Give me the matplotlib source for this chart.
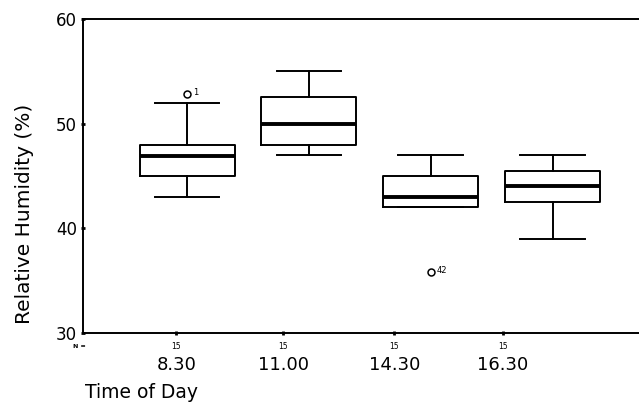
import matplotlib
matplotlib.use("Agg")
import matplotlib.pyplot as plt

plt.rcParams['font.family'] = ['DejaVu Sans']

times = ["8.30", "11.00", "14.30", "16.30"]
n_counts = ["15", "15", "15", "15"]
whisker_low = [43.0, 47.0, 42.0, 39.0]
q1 = [45.0, 48.0, 42.0, 42.5]
medians = [46.9, 50.0, 43.0, 44.0]
q3 = [48.0, 52.5, 45.0, 45.5]
whisker_high = [52.0, 55.0, 47.0, 47.0]
outliers = [[52.8], [], [35.8], []]
outlier_ids = [["1"], [], ["42"], []]

fig = plt.figure(figsize=(6.39, 4.03), dpi=100)
ax = fig.add_axes([0.130, 0.1737, 0.870, 0.7792])

positions = [1, 2, 3, 4]
stats = []
for i in range(len(times)):
    stats.append(dict(med=medians[i], q1=q1[i], q3=q3[i],
                      whislo=whisker_low[i], whishi=whisker_high[i],
                      fliers=outliers[i], label=times[i]))

lw = 1.4
ax.bxp(stats, positions=positions, widths=0.78, showfliers=True,
       boxprops=dict(color='black', linewidth=lw),
       medianprops=dict(color='black', linewidth=2.8),
       whiskerprops=dict(color='black', linewidth=lw),
       capprops=dict(color='black', linewidth=lw),
       capwidths=0.53,
       flierprops=dict(marker='o', markerfacecolor='none', markeredgecolor='black',
                       markersize=5, markeredgewidth=1.1))

for p, vals, ids in zip(positions, outliers, outlier_ids):
    for v, lab in zip(vals, ids):
        ax.text(p + 0.05, v + 0.2, lab, fontsize=6, ha='left', va='center')

ax.set_xlim(0.145, 4.71)
ax.set_ylim(30, 60)
ax.set_yticks([30, 40, 50, 60])
ax.tick_params(axis='y', direction='inout', length=3, width=2, labelsize=12, pad=3)

tick_pos = [0.91, 1.79, 2.70, 3.59]
ax.set_xticks(tick_pos)
ax.set_xticklabels(times, fontsize=13)
ax.tick_params(axis='x', direction='inout', length=3, width=2, pad=15)

for tp, n in zip(tick_pos, n_counts):
    ax.text(tp, -0.03, n, transform=ax.get_xaxis_transform(), fontsize=5.5,
            ha='center', va='top')
fig.text(73 / 639, 1 - 346 / 403, "N =", fontsize=4.5, ha='left', va='center',
         fontweight='bold')

ax.spines['right'].set_visible(False)
for s in ['top', 'bottom', 'left']:
    ax.spines[s].set_linewidth(lw)

ax.set_ylabel("Relative Humidity (%)", fontsize=14.5)
ax.yaxis.set_label_coords(-0.088, 0.379)
fig.text(85 / 639, 1 - 392 / 403, "Time of Day", fontsize=13.5, ha='left', va='center')

fig.savefig("out.png", dpi=100)
